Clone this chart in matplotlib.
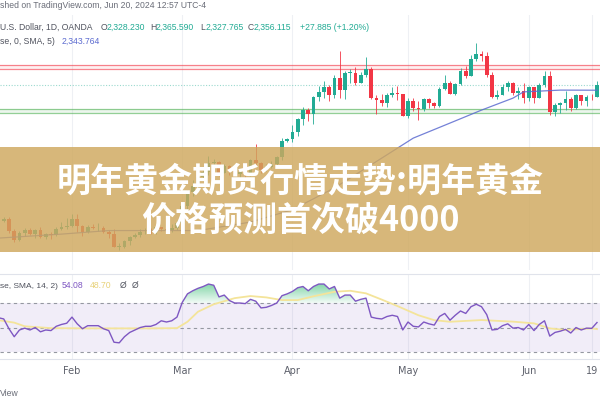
import numpy as np
import pandas as pd
import matplotlib
matplotlib.use("Agg")
import matplotlib.pyplot as plt
from matplotlib.patches import Rectangle
from matplotlib.path import Path
from matplotlib.colors import LinearSegmentedColormap

# XAUUSD daily, OANDA, Jan 12 - Jun 20 2024
dates = pd.bdate_range("2024-01-12", "2024-06-20")

opens = [2029, 2049, 2055, 2028, 2006, 2023, 2029, 2021, 2029, 2014, 2021, 2018, 2032, 2037,
         2039, 2054, 2039, 2025, 2035, 2034, 2034, 2024, 2020, 1992, 1992, 2004, 2013, 2017, 2024, 2025, 2024, 2035, 2031, 2030, 2034,
         2044, 2083, 2114, 2128, 2148, 2159, 2179, 2182, 2158, 2174, 2162, 2155, 2160, 2157, 2186, 2181, 2165, 2171, 2178, 2194, 2230,
         2233, 2250, 2280, 2300, 2290, 2329, 2339, 2352, 2333, 2372, 2344, 2383, 2383, 2361, 2379, 2391, 2327, 2322, 2316, 2332, 2337, 2335,
         2286, 2320, 2303, 2301, 2324, 2314, 2309, 2346, 2360, 2336, 2358, 2386, 2376, 2415, 2425, 2421, 2379, 2329, 2334, 2351, 2360, 2338, 2343,
         2327, 2350, 2327, 2355, 2375, 2294, 2311, 2316, 2325, 2303, 2333, 2319, 2329, 2328.23]
highs = [2062, 2058, 2059, 2031, 2026, 2034, 2034, 2031, 2037, 2023, 2025, 2036, 2048, 2056,
         2065, 2066, 2041, 2040, 2043, 2044, 2038, 2030, 2031, 2000, 2006, 2015, 2023, 2031, 2033, 2034, 2041, 2037, 2038, 2043, 2052,
         2088, 2119, 2142, 2152, 2165, 2195, 2189, 2185, 2178, 2175, 2168, 2164, 2163, 2189, 2223, 2183, 2177, 2185, 2196, 2236, 2236,
         2265, 2281, 2305, 2304, 2330, 2354, 2365, 2355, 2378, 2431, 2386, 2392, 2395, 2385, 2418, 2395, 2334, 2335, 2338, 2352, 2353, 2336,
         2326, 2326, 2319, 2326, 2327, 2318, 2351, 2378, 2365, 2360, 2393, 2399, 2422, 2450, 2431, 2429, 2385, 2345, 2358, 2364, 2362, 2351, 2360,
         2354, 2351, 2359, 2388, 2387, 2314, 2318, 2343, 2328, 2335, 2334, 2334, 2336, 2365.59]
lows = [2027, 2047, 2023, 2002, 2004, 2016, 2017, 2011, 2011, 2009, 2010, 2016, 2030, 2031,
        2036, 2025, 2015, 2022, 2031, 2026, 2022, 2012, 1990, 1984, 1989, 1996, 2012, 2014, 2020, 2020, 2020, 2026, 2025, 2025, 2029,
        2038, 2076, 2106, 2124, 2146, 2154, 2175, 2150, 2157, 2154, 2153, 2146, 2146, 2150, 2176, 2157, 2163, 2168, 2173, 2186, 2228,
        2228, 2240, 2266, 2275, 2268, 2320, 2326, 2319, 2327, 2326, 2324, 2361, 2355, 2360, 2374, 2325, 2291, 2309, 2306, 2329, 2322, 2285,
        2281, 2296, 2277, 2298, 2304, 2303, 2307, 2345, 2335, 2333, 2355, 2371, 2376, 2409, 2409, 2373, 2326, 2325, 2333, 2341, 2334, 2324, 2314,
        2320, 2315, 2326, 2350, 2287, 2286, 2293, 2300, 2296, 2302, 2310, 2309, 2322, 2327.765]
closes = [2049, 2055, 2028, 2006, 2023, 2029, 2021, 2029, 2014, 2021, 2018, 2032, 2037, 2039,
          2054, 2039, 2025, 2035, 2034, 2034, 2024, 2020, 1992, 1992, 2004, 2013, 2017, 2024, 2025, 2024, 2035, 2031, 2030, 2034, 2044,
          2083, 2114, 2128, 2148, 2159, 2179, 2182, 2158, 2174, 2162, 2155, 2160, 2157, 2186, 2181, 2165, 2171, 2178, 2194, 2230, 2233,
          2250, 2280, 2300, 2290, 2329, 2339, 2352, 2333, 2372, 2344, 2383, 2383, 2361, 2379, 2391, 2327, 2322, 2316, 2332, 2337, 2335, 2286,
          2320, 2303, 2301, 2324, 2314, 2309, 2346, 2360, 2336, 2358, 2386, 2376, 2415, 2425, 2421, 2379, 2329, 2334, 2351, 2360, 2338, 2343, 2327,
          2350, 2327, 2355, 2375, 2294, 2311, 2316, 2325, 2303, 2333, 2319, 2329, 2328, 2356.115]

# price moving average, sampled at bar positions
ma_idx = [0, 12, 21, 38, 48, 56, 64, 73, 79, 85, 92, 98, 100, 107, 114]
ma_val = [2011, 2020, 2028, 2028, 2047, 2075, 2124, 2191, 2236, 2265, 2299, 2326, 2340, 2344, 2343.764]

rsi = [58, 57, 49, 42.5, 48, 49.5, 48, 50, 46.5, 48, 47.5, 51, 52.5, 53.5,
       58.5, 53, 49, 51.5, 51.5, 51.5, 49, 47.5, 38, 37.5, 42.5, 46, 48, 50, 51, 51, 52.5, 55.5, 54.5, 55.5, 58.5,
       70.5, 77.5, 80, 82, 83.5, 85.5, 84.5, 75, 76.5, 72, 70, 70, 69.5, 73, 71.5, 66, 66.5, 68, 70, 76, 77.5,
       79.5, 82.5, 83.5, 80, 83.5, 85.5, 85.5, 81.5, 83.5, 74, 76.5, 76.5, 71.5, 73, 74, 58.5, 57.5, 57, 59, 60, 59, 48,
       54.5, 51, 50.5, 54.5, 53, 52, 59, 61.5, 56, 60, 63.5, 61.5, 67, 69, 67, 60.5, 48, 48.5, 51.5, 53, 49.5, 50, 48,
       52.5, 47.5, 52.5, 55.5, 43, 46, 47, 48.5, 45.5, 50, 48, 49.5, 49.3, 54.08]
rsi_ma_idx = [0, 3, 5, 10, 16, 22, 29, 34, 36, 38, 41, 45, 48, 51, 54, 57, 60, 64, 67, 70,
              73, 76, 80, 83, 86, 92, 98, 102, 105, 108, 113, 114]
rsi_ma_val = [56, 54, 51, 49.5, 49.3, 49.3, 49.3, 49.5, 54.7, 62.9, 69, 74, 75.7, 74.6, 72.4, 72.4, 75.5, 79.2, 80, 77.9,
              72.8, 67.5, 60, 56, 54.7, 56.1, 54.8, 53.4, 49.3, 48, 49.3, 48.7]

red_levels = [2400, 2391]
green_levels = [2301, 2292]

tick_dates = ["2024-02-01", "2024-03-01", "2024-04-01", "2024-05-01", "2024-06-03", "2024-06-19"]
tick_labels = ["Feb", "Mar", "Apr", "May", "Jun", "19"]

title_lines = ["明年黄金期货行情走势:明年黄金", "价格预测首次破4000"]

UP = "#22ab94"
DOWN = "#f23645"

o = np.array(opens)
h = np.array(highs)
l = np.array(lows)
c = np.array(closes)
idx = np.arange(len(dates))
tick_idx = [dates.get_loc(pd.Timestamp(d)) for d in tick_dates]
xlim = (0.29, 114.57)

fig = plt.figure(figsize=(6, 4), dpi=100)
fig.patch.set_facecolor("white")

ax = fig.add_axes([0, 1 - 270 / 400, 1, 255 / 400])
ax2 = fig.add_axes([0, 1 - 359 / 400, 1, 85 / 400])

# ---- price pane
for t in tick_idx:
    ax.axvline(t, color="#eef0f4", lw=0.8, zorder=0)
ax.axhspan(min(red_levels), max(red_levels), color=DOWN, alpha=0.07, lw=0, zorder=1)
for lv in red_levels:
    ax.axhline(lv, color=DOWN, alpha=0.6, lw=0.9, zorder=1)
ax.axhspan(min(green_levels), max(green_levels), color="#4caf50", alpha=0.1, lw=0, zorder=1)
for lv in green_levels:
    ax.axhline(lv, color="#4caf50", alpha=0.6, lw=0.9, zorder=1)
ax.axhline(c[-1], color=UP, alpha=0.45, lw=0.8, ls=(0, (1, 1.5)), zorder=1)

cols = np.where(c >= o, UP, DOWN)
ax.vlines(idx, l, h, colors=cols, lw=0.6, zorder=3)
ax.bar(idx, np.maximum(np.abs(c - o), 0.8), bottom=np.minimum(o, c), width=0.7,
       color=cols, lw=0, zorder=4)
ax.plot(ma_idx, ma_val, color="#5c6bd0", lw=0.9, alpha=0.85, zorder=5)

ax.set_xlim(*xlim)
ax.set_ylim(1939.25, 2513)
ax.set_xticks([])
ax.set_yticks([])
for s in ax.spines.values():
    s.set_visible(False)

# ---- RSI pane
r = np.array(rsi)
for t in tick_idx:
    ax2.axvline(t, color="#eef0f4", lw=0.8, zorder=0)
ax2.axhspan(30, 70, color="#7e57c2", alpha=0.1, lw=0, zorder=0)
fb = ax2.fill_between(idx, r, 70, where=r > 70, interpolate=True,
                      facecolor="none", edgecolor="none")
clip = Path.make_compound_path(*fb.get_paths())
grad = np.linspace(0, 1, 256).reshape(-1, 1)
cmap = LinearSegmentedColormap.from_list("rsi_up", ["#f2fbf6", "#6fcf9a"])
im = ax2.imshow(grad, extent=[idx[0], idx[-1], 70, 88], origin="lower",
                aspect="auto", cmap=cmap, zorder=1)
im.set_clip_path(clip, transform=ax2.transData)
for lv in (70, 50, 30):
    ax2.axhline(lv, color="#9598a1", lw=0.8, ls=(0, (3, 3)), zorder=2)
ax2.plot(rsi_ma_idx, rsi_ma_val, color="#f4e49a", lw=1.3, zorder=3)
ax2.plot(idx, r, color="#7e57c2", lw=1.0, zorder=4)

ax2.set_xlim(*xlim)
ax2.set_ylim(24.3, 93.7)
ax2.set_yticks([])
ax2.set_xticks(tick_idx, tick_labels)
ax2.tick_params(axis="x", length=0, pad=5, labelsize=7, labelcolor="#5d606b")
for k in ("left", "right"):
    ax2.spines[k].set_visible(False)
for k in ("top", "bottom"):
    ax2.spines[k].set_color("#e0e3eb")
    ax2.spines[k].set_linewidth(0.8)

# ---- header texts (cropped on the left in the screenshot)
def ftext(x, y, s, color="#50535e", size=6.2):
    fig.text(x / 600, 1 - y / 400, s, color=color, fontsize=size, va="center", ha="left",
             family=["Liberation Sans", "DejaVu Sans"])

ftext(0, 6, "shed on TradingView.com, Jun 20, 2024 12:57 UTC-4", "#6a6d78")
ftext(0, 27, "U.S. Dollar, 1D, OANDA")
for x, lab, val in [(101, "O", "2,328.230"), (150, "H", "2,365.590"),
                    (200, "L", "2,327.765"), (248, "C", "2,356.115")]:
    ftext(x, 27, lab)
    ftext(x + 5.5, 27, val, UP)
ftext(300, 27, "+27.885 (+1.20%)", UP)
ftext(0, 41, "se, 0, SMA, 5)")
ftext(62, 41, "2,343.764", "#5c6bd0")
ftext(0, 286, "se, SMA, 14, 2)", size=6.0)
ftext(62, 286, "54.08", "#7e57c2")
ftext(90, 286, "48.70", "#e8d27a")
ftext(120, 286, "\u00d8")
ftext(132, 286, "\u00d8")
ftext(0, 393, "View", "#6a6d78")

# ---- banner overlay with title
fig.add_artist(Rectangle((0, 1 - 252 / 400), 1, 105 / 400, transform=fig.transFigure,
                         facecolor="#cfa85d", alpha=0.82, lw=0, zorder=10))
for y, s in zip((181, 220), title_lines):
    fig.text(0.5, 1 - y / 400, s, ha="center", va="center", fontsize=24.5,
             color="white", fontweight="bold", zorder=11,
             family=["Noto Sans CJK SC", "DejaVu Sans"])

fig.savefig("out.png", dpi=100)
